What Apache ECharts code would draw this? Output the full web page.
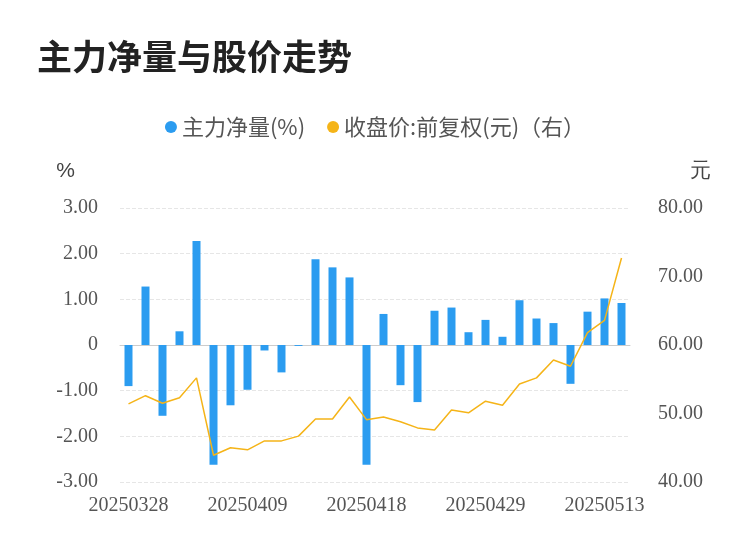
<!DOCTYPE html>
<html><head><meta charset="utf-8">
<script src="https://cdn.jsdelivr.net/npm/echarts@6/dist/echarts.min.js"></script>
<style>html,body{margin:0;background:#fff}#c{width:750px;height:558px}</style>
</head><body><div id="c"></div>
<script>
var dates = ['20250328','20250331','20250401','20250402','20250403','20250407','20250408','20250409','20250410','20250411','20250414','20250415','20250416','20250417','20250418','20250421','20250422','20250423','20250424','20250425','20250428','20250429','20250430','20250506','20250507','20250508','20250509','20250512','20250513','20250514'];
var netFlow = [-0.9,1.28,-1.55,0.3,2.28,-2.62,-1.32,-0.98,-0.12,-0.6,-0.02,1.88,1.7,1.48,-2.62,0.68,-0.88,-1.25,0.75,0.82,0.28,0.55,0.18,0.98,0.58,0.48,-0.85,0.73,1.02,0.92];
var price = [51.4,52.6,51.5,52.3,55.2,43.9,45.0,44.7,46.0,46.0,46.7,49.2,49.2,52.4,49.1,49.5,48.8,47.9,47.6,50.5,50.1,51.8,51.2,54.3,55.2,57.8,56.9,61.8,63.6,72.7];
var font = 'Liberation Serif';
var chart = echarts.init(document.getElementById('c'));
chart.setOption({
  title: {text: '主力净量与股价走势', left: 32, top: 34, textStyle: {fontSize: 35, fontWeight: 'bold', color: '#222', fontFamily: 'Noto Sans CJK SC'}},
  legend: {top: 111, left: 'center', itemWidth: 12, itemHeight: 12, itemGap: 22,
    textStyle: {fontSize: 22, color: '#555', fontFamily: 'Noto Sans CJK SC'},
    data: [{name: '主力净量(%)', icon: 'circle'}, {name: '收盘价:前复权(元)（右）', icon: 'circle'}]},
  grid: {left: 120, right: 120, top: 208, bottom: 76},
  xAxis: {type: 'category', data: dates, axisTick: {show: false},
    axisLine: {lineStyle: {color: '#ccc'}},
    axisLabel: {interval: 6, fontSize: 20, color: '#555', fontFamily: font, margin: 14}},
  yAxis: [
    {type: 'value', min: -3, max: 3, interval: 1, name: '%', nameLocation: 'end', nameGap: 26,
     nameTextStyle: {fontSize: 21, color: '#444', align: 'right', padding: [0, 45, 0, 0]},
     axisLabel: {fontSize: 20, color: '#555', fontFamily: font, margin: 22,
       formatter: function (v) { return v === 0 ? '0' : v.toFixed(2); }},
     splitLine: {lineStyle: {type: 'dashed', color: '#e6e6e6'}}},
    {type: 'value', min: 40, max: 80, interval: 10, name: '元', nameLocation: 'end', nameGap: 26,
     nameTextStyle: {fontSize: 21, color: '#444', align: 'left', padding: [0, 0, 0, 60]},
     axisLabel: {fontSize: 20, color: '#555', fontFamily: font, margin: 28,
       formatter: function (v) { return v.toFixed(2); }},
     splitLine: {show: false}}
  ],
  series: [
    {name: '主力净量(%)', type: 'bar', data: netFlow, barWidth: 8,
     itemStyle: {color: '#2b9cf0'}},
    {name: '收盘价:前复权(元)（右）', type: 'line', yAxisIndex: 1, data: price,
     symbol: 'none', lineStyle: {color: '#f5b418', width: 1.5}, itemStyle: {color: '#f5b418'}}
  ]
});
</script></body></html>
